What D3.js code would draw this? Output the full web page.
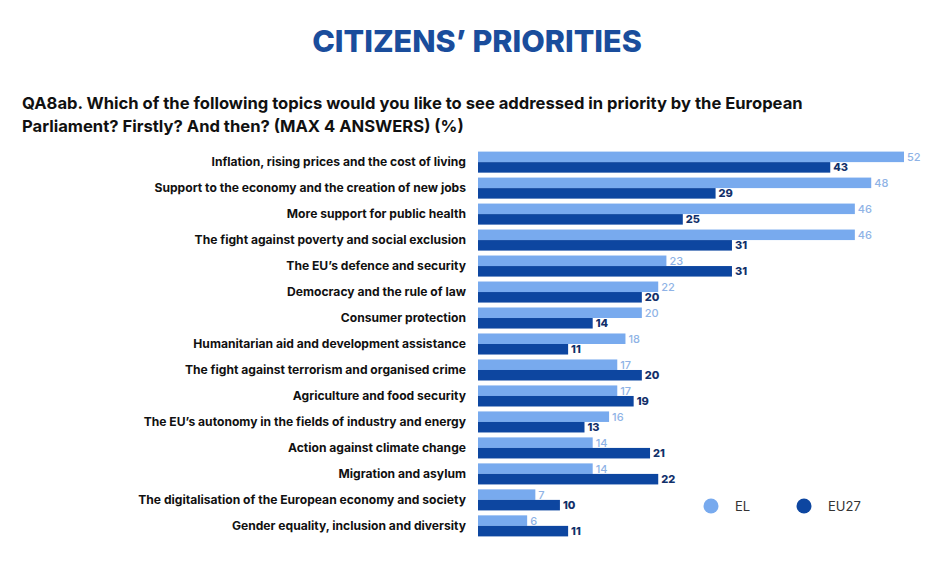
<!DOCTYPE html>
<html>
<head>
  <meta charset="utf-8">
  <title>Citizens' priorities</title>
  <script src="https://cdn.jsdelivr.net/npm/d3@7"></script>
  <style>
    body { margin: 0; background: #ffffff; }
    text { font-family: Inter, "Open Sans", sans-serif; }
  </style>
</head>
<body>
<script>
  // topics, top to bottom
  var topics = [
    "Inflation, rising prices and the cost of living",
    "Support to the economy and the creation of new jobs",
    "More support for public health",
    "The fight against poverty and social exclusion",
    "The EU\u2019s defence and security",
    "Democracy and the rule of law",
    "Consumer protection",
    "Humanitarian aid and development assistance",
    "The fight against terrorism and organised crime",
    "Agriculture and food security",
    "The EU\u2019s autonomy in the fields of industry and energy",
    "Action against climate change",
    "Migration and asylum",
    "The digitalisation of the European economy and society",
    "Gender equality, inclusion and diversity"
  ];
  var elValues = [52, 48, 46, 46, 23, 22, 20, 18, 17, 17, 16, 14, 14, 7, 6];
  var eu27Values = [43, 29, 25, 31, 31, 20, 14, 11, 20, 19, 13, 21, 22, 10, 11];
  var seriesNames = ["EL", "EU27"];

  var lightBlue = "#78aaee",
      darkBlue = "#0d46a0";

  var width = 952, height = 564;

  var svg = d3.select("body").append("svg")
    .attr("width", width)
    .attr("height", height);

  // title
  svg.append("text")
    .attr("x", 477)
    .attr("y", 52)
    .attr("text-anchor", "middle")
    .style("font-size", "30.5px")
    .style("font-weight", 800)
    .style("fill", "#1a4d9c")
    .text("CITIZENS\u2019 PRIORITIES");

  // question
  var q = svg.append("text")
    .attr("x", 22)
    .style("font-size", "16.6px")
    .style("font-weight", 700)
    .style("fill", "#111111");
  q.append("tspan").attr("x", 22).attr("y", 109)
    .text("QA8ab. Which of the following topics would you like to see addressed in priority by the European");
  q.append("tspan").attr("x", 22).attr("y", 132)
    .text("Parliament? Firstly? And then? (MAX 4 ANSWERS) (%)");

  // scales
  var x = d3.scaleLinear()
    .domain([0, 52])
    .range([478, 904]);

  var y = d3.scaleBand()
    .domain(topics)
    .range([149, 539])
    .paddingInner(0.19)
    .paddingOuter(0.1);

  var sub = d3.scaleBand()
    .domain(seriesNames)
    .range([0, y.bandwidth()]);

  var rows = topics.map(function (t, i) {
    return { topic: t, values: [elValues[i], eu27Values[i]] };
  });

  var g = svg.append("g");

  var row = g.selectAll(".row")
    .data(rows)
    .enter().append("g")
    .attr("class", "row")
    .attr("transform", function (d) { return "translate(0," + y(d.topic) + ")"; });

  // category labels
  row.append("text")
    .attr("x", 466)
    .attr("y", y.bandwidth() / 2 + 4)
    .attr("text-anchor", "end")
    .style("font-size", "12.1px")
    .style("font-weight", 700)
    .style("fill", "#111111")
    .text(function (d) { return d.topic; });

  // bars
  row.selectAll("rect")
    .data(function (d) {
      return seriesNames.map(function (s, j) { return { key: s, value: d.values[j] }; });
    })
    .enter().append("rect")
    .attr("x", x(0))
    .attr("y", function (d) { return sub(d.key); })
    .attr("height", sub.bandwidth())
    .attr("width", function (d) { return x(d.value) - x(0); })
    .attr("fill", function (d) { return d.key === "EL" ? lightBlue : darkBlue; });

  // value labels
  row.selectAll(".val")
    .data(function (d) {
      return seriesNames.map(function (s, j) { return { key: s, value: d.values[j] }; });
    })
    .enter().append("text")
    .attr("class", "val")
    .attr("x", function (d) { return x(d.value) + 3; })
    .attr("y", function (d) { return sub(d.key) + sub.bandwidth() / 2 + 4; })
    .style("font-size", "11px")
    .style("font-weight", function (d) { return d.key === "EL" ? 500 : 800; })
    .style("fill", function (d) { return d.key === "EL" ? "#8fb3e6" : "#12306a"; })
    .text(function (d) { return d.value; });

  // legend
  var legendX = d3.scalePoint()
    .domain(seriesNames)
    .range([711, 804]);

  var legend = svg.selectAll(".legend")
    .data(seriesNames)
    .enter().append("g")
    .attr("class", "legend")
    .attr("transform", function (d) { return "translate(" + legendX(d) + ",506)"; });

  legend.append("circle")
    .attr("r", 7.5)
    .attr("fill", function (d) { return d === "EL" ? lightBlue : darkBlue; });

  legend.append("text")
    .attr("x", 24)
    .attr("y", 5)
    .style("font-size", "13px")
    .style("fill", "#333333")
    .text(function (d) { return d; });
</script>
</body>
</html>
